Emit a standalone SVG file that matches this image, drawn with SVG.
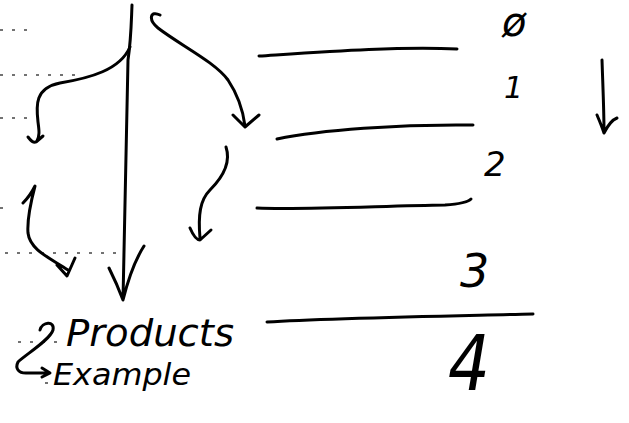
<svg xmlns="http://www.w3.org/2000/svg" width="629" height="423" viewBox="0 0 629 423">
<style>
.s{fill:none;stroke:#000;stroke-width:3;stroke-linecap:round;stroke-linejoin:round}
.d{fill:none;stroke:#444;stroke-width:1.3;stroke-dasharray:3 9}
.t{font-family:"DejaVu Sans","Liberation Sans",sans-serif;font-style:italic;fill:#000}
</style>
<rect width="629" height="423" fill="#fff"/>
<g id="ruling">
<path class="d" d="M0,30 H36 M0,75 H80 M0,118 H32 M0,208 H12 M5,253 H120 M18,342 H65 M45,383 H55"/>
</g>
<g id="connectors">
<path class="s" d="M132,5 C131,30 131,40 128,60 L123,300 M109,268 C115,280 120,292 123,300 C128,280 135,260 144,246"/>
<path class="s" d="M130,47 C120,70 90,78 60,83 C35,88 36,105 38,122 C39,130 40,135 37,141 M28,137 C31,141 34,143 36,142 L43,136"/>
<path class="s" d="M160,15 C150,10 148,20 158,28 C180,45 215,62 228,80 C238,95 243,110 245,126 M233,115 L245,127 L259,115"/>
<path class="s" d="M226,147 C232,165 220,180 210,190 C200,200 198,215 200,238 M190,228 C193,235 196,240 200,240 L211,230"/>
<path class="s" d="M23,203 C28,198 32,192 35,186 C30,205 27,220 28,233 C30,250 50,258 68,270 M57,265 L67,276 L75,258"/>
<path class="s" d="M40,330 C42,322 55,320 53,330 C50,340 25,355 18,362 C15,368 18,374 28,373 L48,373 M42,368 L50,373 L42,377"/>
<path class="s" d="M602,60 C603,90 604,110 604,132 M597,115 C600,122 603,130 604,133 C608,125 612,120 617,118"/>
</g>
<g id="levels">
<path class="s" d="M259,56 C320,52 400,46 457,49"/>
<path class="s" d="M277,139 C320,130 400,124 473,125"/>
<path class="s" d="M257,208 C300,210 380,206 445,205 C460,204 468,202 471,199"/>
<path class="s" d="M267,322 C330,318 450,316 533,314"/>
</g>
<g id="labels">
<text class="t" x="502" y="36" font-size="40">ø</text>
<text class="t" x="504" y="98" font-size="30">1</text>
<text class="t" x="484" y="176" font-size="34">2</text>
<text class="t" x="460" y="287" font-size="46">3</text>
<text class="t" x="448" y="390" font-size="76" textLength="42" lengthAdjust="spacingAndGlyphs">4</text>
<text class="t" x="66" y="346" font-size="38" textLength="168" lengthAdjust="spacingAndGlyphs">Products</text>
<text class="t" x="53" y="385" font-size="30" textLength="138" lengthAdjust="spacingAndGlyphs">Example</text>
</g>
</svg>
